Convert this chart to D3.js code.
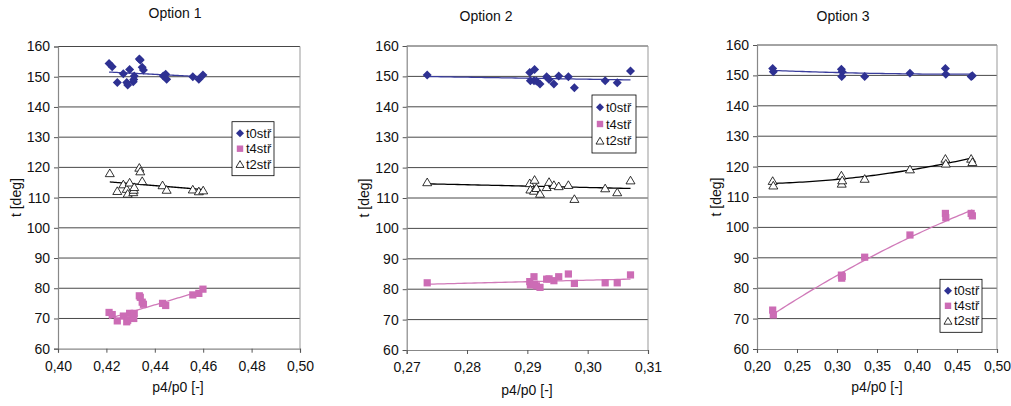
<!DOCTYPE html>
<html><head><meta charset="utf-8">
<script src="https://cdn.jsdelivr.net/npm/d3@7"></script>
<style>
body{margin:0;background:#fff;}
text{font-family:"Liberation Sans",Arial,sans-serif;fill:#111;}
</style></head>
<body><svg id="c" width="1011" height="406"></svg>
<script>
// ---------- DATA ----------
const titles = ["Option 1", "Option 2", "Option 3"];
const seriesNames = ["t0stř", "t4stř", "t2stř"];
const yTicks = [60, 70, 80, 90, 100, 110, 120, 130, 140, 150, 160];
const xTicks1 = [0.40, 0.42, 0.44, 0.46, 0.48, 0.50];
const xTicks2 = [0.27, 0.28, 0.29, 0.30, 0.31];
const xTicks3 = [0.20, 0.25, 0.30, 0.35, 0.40, 0.45, 0.50];

// Option 1
const o1_t0_x = [0.4211,0.4224,0.4245,0.4270,0.4284,0.4288,0.4296,0.4311,0.4313,0.4315,0.4336,0.4340,0.4348,0.4353,0.4435,0.4445,0.4449,0.4557,0.4582,0.4599];
const o1_t0_y = [154.4,153.3,148.1,151.0,148.1,147.3,152.4,148.3,149.1,150.2,155.9,155.5,153.1,152.2,150.2,150.8,149.2,150.0,149.2,150.6];
const o1_t4_x = [0.4211,0.4224,0.4245,0.4270,0.4284,0.4288,0.4296,0.4311,0.4313,0.4315,0.4336,0.4340,0.4348,0.4353,0.4432,0.4445,0.4557,0.4582,0.4599];
const o1_t4_y = [72.0,71.3,69.2,70.8,68.9,69.4,71.7,70.5,70.0,71.7,77.5,77.0,75.4,74.7,75.0,74.3,77.8,78.3,79.7];
const o1_t2_x = [0.4214,0.4245,0.4270,0.4284,0.4288,0.4296,0.4311,0.4313,0.4315,0.4336,0.4340,0.4348,0.4432,0.4449,0.4557,0.4582,0.4600];
const o1_t2_y = [118.2,112.3,114.5,113.0,111.4,115.1,111.9,112.7,113.6,120.0,118.8,115.6,114.2,112.7,112.8,112.2,112.5];

// Option 2
const o2_x = [0.2734,0.2904,0.2905,0.2911,0.2912,0.2915,0.2921,0.2932,0.2936,0.2944,0.2952,0.2968,0.2978,0.3029,0.3049,0.3071];
const o2_t0_y = [150.5,151.3,148.6,148.6,152.3,148.5,147.5,149.9,149.0,147.5,150.1,149.9,146.3,148.6,147.9,151.8];
const o2_t4_y = [82.1,82.5,81.4,84.1,81.6,81.1,80.6,83.3,83.4,82.8,84.1,85.0,81.9,82.1,82.1,84.7];
const o2_t2_y = [115.3,115.0,112.9,112.5,116.1,113.4,111.5,113.7,115.4,114.4,114.0,114.4,109.8,113.3,112.0,115.9];

// Option 3
const o3_x = [0.2196,0.2204,0.3055,0.3059,0.3065,0.3346,0.3912,0.4355,0.4360,0.4677,0.4692];
const o3_t0_y = [152.3,151.2,152.0,149.6,151.2,149.6,150.7,152.3,150.4,149.6,149.9];
const o3_t4_y = [72.8,71.2,84.3,83.3,83.9,90.2,97.5,104.6,103.2,104.6,103.8];
const o3_t2_y = [115.4,113.9,117.2,114.5,115.6,116.1,119.2,122.7,121.1,122.7,121.6];

// ---------- LAYOUT / STYLE ----------
const colors = {t0:"#2e3192", t4:"#cc6cb5", t2:"#000"};
const panels = [
  {title:titles[0], L:58, R:300, T:46.5, B:348.7, xd:[0.40,0.50], xt:xTicks1, deg:1,
   titleX:175, titleY:18, ylabX:16, xlabX:178, xlabY:392, leg:{x:232,y:121.7,w:42,h:54},
   s:[{k:"t0",x:o1_t0_x,y:o1_t0_y},{k:"t4",x:o1_t4_x,y:o1_t4_y},{k:"t2",x:o1_t2_x,y:o1_t2_y}]},
  {title:titles[1], L:406.7, R:648, T:46, B:350, xd:[0.27,0.31], xt:xTicks2, deg:1,
   titleX:486, titleY:21, ylabX:364, xlabX:527, xlabY:395, leg:{x:592,y:95,w:44,h:58},
   s:[{k:"t0",x:o2_x,y:o2_t0_y},{k:"t4",x:o2_x,y:o2_t4_y},{k:"t2",x:o2_x,y:o2_t2_y}]},
  {title:titles[2], L:757, R:997, T:45, B:349, xd:[0.20,0.50], xt:xTicks3, deg:2,
   titleX:843, titleY:21, ylabX:716, xlabX:877, xlabY:392, leg:{x:940,y:279.3,w:42,h:53},
   s:[{k:"t0",x:o3_x,y:o3_t0_y},{k:"t4",x:o3_x,y:o3_t4_y},{k:"t2",x:o3_x,y:o3_t2_y}]}
];

function polyfit(xs, ys, deg){
  const m = d3.mean(xs);
  const n = deg+1;
  const A = Array.from({length:n},()=>new Array(n+1).fill(0));
  xs.forEach((x,i)=>{
    const u = x-m;
    for(let r=0;r<n;r++){
      for(let c=0;c<n;c++) A[r][c]+=Math.pow(u,r+c);
      A[r][n]+=ys[i]*Math.pow(u,r);
    }
  });
  for(let i=0;i<n;i++){
    let p=i; for(let r=i+1;r<n;r++) if(Math.abs(A[r][i])>Math.abs(A[p][i])) p=r;
    [A[i],A[p]]=[A[p],A[i]];
    for(let r=0;r<n;r++){ if(r===i) continue; const f=A[r][i]/A[i][i]; for(let c=i;c<=n;c++) A[r][c]-=f*A[i][c]; }
  }
  const coef = A.map((row,i)=>row[n]/row[i]);
  return x=>coef.reduce((s,c,i)=>s+c*Math.pow(x-m,i),0);
}

const svg = d3.select("#c");
const fmt = v=>d3.format(".2f")(v).replace(".",",");
const FS = "14px";

function marker(g, k, x, y, size){
  if(k==="t0"){
    const r=size/2;
    g.append("path").attr("d",`M${x},${y-r}L${x+r},${y}L${x},${y+r}L${x-r},${y}Z`).attr("fill",colors.t0);
  } else if(k==="t4"){
    const r=size*0.4;
    g.append("rect").attr("x",x-r).attr("y",y-r).attr("width",2*r).attr("height",2*r).attr("fill",colors.t4);
  } else {
    const h=size*0.85, w=size*0.5;
    g.append("path").attr("d",`M${x},${y-h/2}L${x+w},${y+h/2}L${x-w},${y+h/2}Z`)
     .attr("fill","#fff").attr("stroke","#000").attr("stroke-width",0.8);
  }
}

panels.forEach(p=>{
  const x = d3.scaleLinear().domain(p.xd).range([p.L,p.R]);
  const y = d3.scaleLinear().domain([60,160]).range([p.B,p.T]);
  const g = svg.append("g");

  g.append("g").selectAll("line").data(yTicks.filter(t=>t>60)).join("line")
    .attr("x1",p.L).attr("x2",p.R).attr("y1",d=>y(d)).attr("y2",d=>y(d))
    .attr("stroke","#333").attr("stroke-width",0.9);
  g.append("line").attr("x1",p.R).attr("x2",p.R).attr("y1",p.T).attr("y2",p.B).attr("stroke","#999").attr("stroke-width",1);

  const ya = g.append("g").attr("transform",`translate(${p.L},0)`)
    .call(d3.axisLeft(y).tickValues(yTicks).tickSize(4).tickPadding(4).tickFormat(d3.format("d")));
  const xa = g.append("g").attr("transform",`translate(0,${p.B})`)
    .call(d3.axisBottom(x).tickValues(p.xt).tickSize(4).tickPadding(8).tickFormat(fmt));
  [ya,xa].forEach(a=>{
    a.select(".domain").attr("stroke","#888").attr("stroke-width",1.2);
    a.selectAll(".tick line").attr("stroke","#555");
    a.selectAll("text").style("font-size",FS).style("font-family","'Liberation Sans',Arial,sans-serif").attr("fill","#111");
  });

  g.append("text").attr("x",p.titleX).attr("y",p.titleY).attr("text-anchor","middle").style("font-size",FS).text(p.title);
  g.append("text").attr("transform",`translate(${p.ylabX},${(p.T+p.B)/2}) rotate(-90)`).attr("text-anchor","middle")
    .attr("dy","0.35em").style("font-size",FS).text("t [deg]");
  g.append("text").attr("x",p.xlabX).attr("y",p.xlabY).attr("text-anchor","middle").style("font-size",FS).text("p4/p0 [-]");

  p.s.forEach(s=>{
    const f = polyfit(s.x, s.y, p.deg);
    const [a,b] = d3.extent(s.x);
    const pts = d3.range(0,61).map(i=>a+(b-a)*i/60);
    g.append("path").datum(pts).attr("fill","none")
      .attr("stroke", s.k==="t2" ? "#000" : (s.k==="t0" ? "#3a3d9c" : "#d07ab9"))
      .attr("stroke-width",1.3)
      .attr("d",d3.line().x(v=>x(v)).y(v=>y(f(v))));
  });
  p.s.forEach(s=>{
    const mg = g.append("g");
    s.x.forEach((xv,i)=>marker(mg, s.k, x(xv), y(s.y[i]), 9));
  });

  const L = p.leg;
  const lg = g.append("g");
  lg.append("rect").attr("x",L.x).attr("y",L.y).attr("width",L.w).attr("height",L.h)
    .attr("fill","#fff").attr("stroke","#000").attr("stroke-width",0.8);
  const step = (L.h-8)/3;
  ["t0","t4","t2"].forEach((k,i)=>{
    const cy = L.y+4+step*(i+0.5);
    marker(lg, k, L.x+8, cy, 8);
    lg.append("text").attr("x",L.x+14).attr("y",cy).attr("dy","0.35em").style("font-size","13px").text(seriesNames[i]);
  });
});
</script></body></html>
